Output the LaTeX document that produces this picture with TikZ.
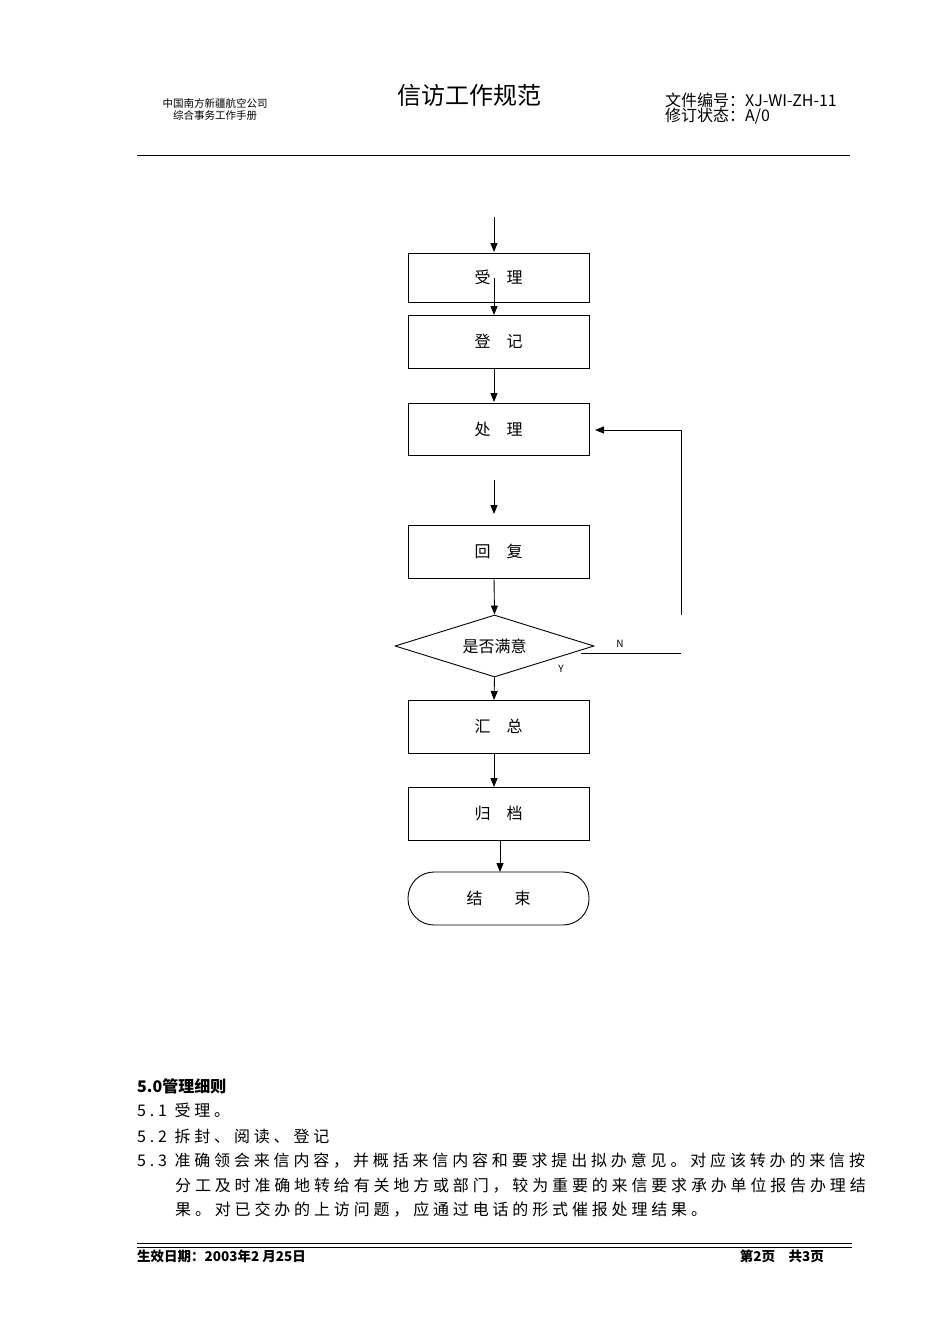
\documentclass[tikz,border=0pt]{standalone}
\usepackage{fontspec}
\setmainfont{Noto Sans CJK SC}
\newfontfamily\bodyf[LetterSpace=24]{Noto Sans CJK SC}
\usetikzlibrary{shapes.geometric,arrows.meta}
\begin{document}
\begin{tikzpicture}[x=1pt,y=-1pt,
  box/.style={draw,line width=0.9pt,minimum width=181pt,inner sep=0pt,font=\fontsize{16}{16}\selectfont},
  arr/.style={line width=0.9pt,-{Triangle[length=9pt,width=7pt]}},
  ln/.style={line width=0.9pt},
  bt/.style={anchor=west,font=\bodyf\fontsize{16}{16}\selectfont,inner sep=0pt}]
\useasboundingbox (0,0) rectangle (950,1344);
% header
\node (h1) at (215,103) {\fontsize{10.5}{10.5}\selectfont 中国南方新疆航空公司};
\node (h2) at (215,116) {\fontsize{10.5}{10.5}\selectfont 综合事务工作手册};
\node (title) at (469,95) {\fontsize{24}{24}\selectfont 信访工作规范};
\node[anchor=west,inner sep=0pt] (r1) at (665,100) {\fontsize{16}{16}\selectfont 文件编号：XJ-WI-ZH-11};
\node[anchor=west,inner sep=0pt] (r2) at (665,116) {\fontsize{16}{16}\selectfont 修订状态：A/0};
\draw[line width=1pt] (137,155) -- (850,155);
% flow
\coordinate (top) at (494,217);
\node[box,minimum height=49pt] (b1) at (498.5,277.5) {受　理};
\node[box,minimum height=53pt] (b2) at (498.5,341.5) {登　记};
\node[box,minimum height=52pt] (b3) at (498.5,429) {处　理};
\node[box,minimum height=53pt] (b4) at (498.5,551.5) {回　复};
\node[draw,line width=0.9pt,diamond,aspect=3.2,minimum width=199pt,minimum height=62pt,inner sep=0pt,font=\fontsize{16}{16}\selectfont] (d) at (494.5,646) {是否满意};
\node[box,minimum height=53pt] (b5) at (498.5,726.5) {汇　总};
\node[box,minimum height=53pt] (b6) at (498.5,813.5) {归　档};
\node[draw,line width=0.9pt,rounded corners=26pt,minimum width=181pt,minimum height=53pt,inner sep=0pt,font=\fontsize{16}{16}\selectfont] (b7) at (498.5,898.5) {结　　束};
\draw[arr] (top) -- (494,252);
\coordinate (a1) at (494,278);
\draw[arr] (a1) -- (494,315);
\draw[arr] (494,368) -- (494,402);
\coordinate (a3s) at (494,480);
\coordinate (a3e) at (494,514);
\draw[arr] (a3s) -- (a3e);
\draw[arr] (494,578) -- (d.north);
\draw[arr] (d.south) -- (494,700);
\draw[arr] (494,753) -- (494,787);
\draw[arr] (500,840) -- (500,872);
\coordinate (n1) at (581,653);
\coordinate (n2) at (681,653);
\coordinate (n3) at (681,615);
\coordinate (n4) at (681,430);
\draw[ln] (n1) -- (n2);
\draw[arr] (n3) -- (n4) -- (595,430);
\node (N) at (620,644) {\fontsize{10}{10}\selectfont N};
\node (Y) at (561,669) {\fontsize{10}{10}\selectfont Y};
% body
\node[bt,font=\fontsize{16}{16}\selectfont\bfseries] (t0) at (137,1086) {5.0管理细则};
\node[bt] (t1) at (137,1110) {5.1 受理。};
\node[bt] (t2) at (137,1136) {5.2 拆封、阅读、登记};
\node[bt] (t3) at (137,1161) {5.3 准确领会来信内容，并概括来信内容和要求提出拟办意见。对应该转办的来信按};
\node[bt] (t4) at (175,1186) {分工及时准确地转给有关地方或部门，较为重要的来信要求承办单位报告办理结};
\node[bt] (t5) at (175,1210) {果。对已交办的上访问题，应通过电话的形式催报处理结果。};
% footer
\draw[line width=1pt] (137,1243) -- (852,1243);
\draw[line width=0.6pt] (137,1247) -- (852,1247);
\node[anchor=west,inner sep=0pt] (f1) at (137,1256) {\fontsize{13.5}{13.5}\selectfont\bfseries 生效日期：2003年2 月25日};
\node[anchor=east,inner sep=0pt] (f2) at (824,1256) {\fontsize{13.5}{13.5}\selectfont\bfseries 第2页　共3页};
\end{tikzpicture}
\end{document}
